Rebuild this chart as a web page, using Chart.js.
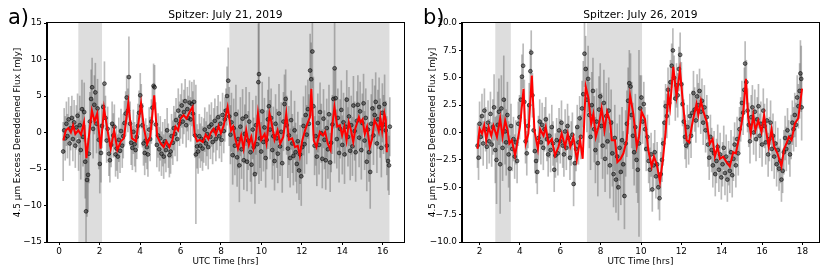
<!DOCTYPE html>
<html><head><meta charset="utf-8">
<script src="https://cdn.jsdelivr.net/npm/chart.js@4"></script>
<style>
html,body{margin:0;padding:0;background:#fff;width:830px;height:277px;overflow:hidden}
.p{position:absolute;top:0;width:415px;height:277px}
</style></head><body>
<div class="p" style="left:0"><canvas id="ca" width="415" height="277"></canvas></div>
<div class="p" style="left:415px"><canvas id="cb" width="415" height="277"></canvas></div>
<script>
// ---------- Panel a: July 21, 2019 ----------
const aTitle = 'Spitzer: July 21, 2019';
const aTime = [
0.20,0.25,0.30,0.36,0.41,0.47,0.52,0.57,0.63,0.68,
0.74,0.80,0.85,0.91,0.96,1.02,1.07,1.13,1.18,1.24,
1.29,1.33,1.38,1.43,1.47,1.52,1.58,1.63,1.68,1.74,
1.79,1.85,1.90,1.96,2.01,2.07,2.12,2.18,2.24,2.29,
2.35,2.40,2.46,2.51,2.57,2.62,2.68,2.73,2.79,2.84,
2.90,2.95,3.01,3.06,3.12,3.17,3.23,3.29,3.34,3.40,
3.45,3.51,3.56,3.62,3.67,3.73,3.78,3.84,3.89,3.95,
4.01,4.06,4.12,4.17,4.23,4.28,4.34,4.39,4.45,4.50,
4.56,4.61,4.67,4.72,4.78,4.83,4.89,4.95,5.00,5.06,
5.12,5.17,5.23,5.28,5.34,5.40,5.45,5.51,5.56,5.62,
5.67,5.73,5.78,5.84,5.89,5.95,6.00,6.06,6.11,6.17,
6.23,6.28,6.34,6.39,6.45,6.50,6.56,6.61,6.67,6.72,
6.76,6.82,6.87,6.93,6.98,7.04,7.09,7.15,7.20,7.26,
7.31,7.37,7.42,7.48,7.53,7.59,7.64,7.70,7.75,7.81,
7.86,7.92,7.97,8.03,8.08,8.14,8.19,8.25,8.30,8.36,
8.41,8.47,8.52,8.58,8.63,8.69,8.74,8.80,8.85,8.91,
8.96,9.02,9.07,9.13,9.18,9.24,9.29,9.35,9.40,9.46,
9.51,9.57,9.62,9.68,9.73,9.79,9.85,9.88,9.93,9.99,
10.04,10.10,10.15,10.21,10.26,10.32,10.37,10.43,10.48,10.54,
10.59,10.65,10.70,10.76,10.81,10.87,10.92,10.98,11.03,11.09,
11.14,11.20,11.25,11.31,11.36,11.42,11.47,11.53,11.58,11.64,
11.69,11.75,11.80,11.86,11.91,11.97,12.02,12.08,12.13,12.19,
12.24,12.30,12.35,12.41,12.46,12.52,12.57,12.63,12.68,12.74,
12.79,12.85,12.90,12.96,13.01,13.07,13.12,13.18,13.23,13.29,
13.34,13.40,13.45,13.51,13.56,13.62,13.67,13.73,13.78,13.84,
13.89,13.95,14.00,14.06,14.11,14.17,14.22,14.28,14.33,14.39,
14.44,14.50,14.55,14.61,14.66,14.72,14.77,14.83,14.88,14.94,
14.99,15.05,15.10,15.16,15.21,15.27,15.32,15.38,15.43,15.49,
15.54,15.60,15.65,15.71,15.76,15.82,15.87,15.93,15.98,16.04,
16.09,16.15,16.20,16.26,16.31,16.35];
const aFlux = [
-2.6,0.3,-0.8,1.2,-0.5,1.8,-1.5,0.6,2.0,-0.9,
1.4,-1.8,0.7,2.3,-1.2,1.0,-2.4,3.2,-0.6,2.8,
-4.0,-10.8,-6.5,-5.8,-2.9,1.5,4.6,6.2,0.5,3.8,
5.5,1.2,3.3,-1.0,-4.3,-2.8,0.9,3.5,6.7,2.0,
-1.1,0.5,-2.9,-3.8,-1.7,1.2,-0.4,0.8,-3.0,-2.2,
-3.3,-1.0,-2.5,0.2,-1.8,-0.5,1.3,2.6,4.8,3.0,
7.6,1.2,-1.4,-2.1,0.1,-1.6,-2.4,-0.6,0.9,2.7,
5.1,3.6,1.0,-1.5,-2.8,-1.1,-2.0,-3.0,0.4,-0.9,
1.5,3.4,6.4,6.2,1.1,-1.7,-0.4,-2.3,-0.8,-2.9,
-1.6,-3.3,-1.2,-2.4,0.3,-1.8,-3.1,-2.6,-0.5,-1.4,
0.6,-0.2,1.7,-0.9,3.0,1.2,2.2,3.7,1.5,2.8,
4.3,1.0,3.2,2.0,4.1,1.8,3.9,2.6,4.2,-0.4,
-3.0,-1.9,-2.6,-0.5,-1.8,-0.9,-2.2,-1.1,0.4,-1.5,
-0.2,-2.0,0.8,-0.6,1.1,-1.3,0.3,1.6,-0.9,0.6,
2.1,-0.5,1.2,-1.0,2.4,0.2,1.8,3.0,5.0,7.1,
2.2,-0.3,1.4,-3.1,0.6,-1.8,2.5,-3.4,-0.9,-4.5,
0.8,-2.3,1.9,-3.8,-0.2,2.2,-4.0,-1.1,1.5,-2.7,
-4.4,0.4,-2.0,-5.7,1.0,-1.6,6.9,8.0,-0.8,-2.6,
2.9,-1.3,0.7,-3.5,-1.0,1.8,3.6,0.4,2.0,-2.4,
-0.5,-3.9,1.2,-0.8,-2.9,2.6,-1.9,0.1,-4.2,1.5,
3.9,4.6,1.0,-2.2,-0.4,-3.5,1.7,-1.5,-3.2,0.3,
-2.7,-4.3,-1.2,-5.2,-3.0,-6.0,-2.0,0.9,-1.6,2.4,
-0.3,3.2,1.2,8.5,7.3,11.1,3.6,-1.8,-0.5,-3.3,
1.3,-1.7,2.8,-0.1,-3.6,1.9,-1.0,-3.8,0.6,-2.3,
2.5,-4.1,-1.4,1.1,4.6,8.8,4.7,-0.9,2.0,-2.8,
0.5,3.1,-1.7,1.4,-3.0,0.8,4.5,-0.6,2.2,-2.5,
1.0,-1.9,3.7,0.2,-2.7,1.6,3.8,-0.7,2.9,-2.4,
1.3,4.0,-1.1,2.0,-4.0,0.4,-2.7,-5.4,1.2,3.3,
-0.4,2.4,4.2,-1.5,1.8,3.5,0.6,-2.1,2.7,1.1,
3.9,0.3,-1.8,-3.9,-4.5,0.8];
const aErr = [
4,3,3,3,3,3,3,3,3,3,
3,3,3,3,4,4,4,4,4,4,
5,8,5,5,4,4,4,4,4,4,
4,4,4,4,4,4,3,3,3,3,
3,3,3,3,3,3,3,3,3,3,
3,3,3,3,3,3,3,3,3,3,
5.5,3,3,3,3,3,3,3,3,3,
3,3,3,3,3,3,3,3,3,3,
3,3,3,3,3,3,3,3,3,3,
3,3,3,3,3,3,3,3,3,3,
3,3,3,3,3,3,3,3,3,3,
3,3,3,3,3,3,3,3,3,3,
9.5,3,3,3,3,3,3,3,3,3,
3,3,3,3,3,3,3,3,3,3,
3,3,3,3,3,3,3,3,4,4.5,
4,4,4,4,4,4,4,4,4,5,
4,4,4,4,4,4,4,4,4,4,
4,4,4,4,4,4,8,15,4,4,
4,4,4,4,4,4,4,4,4,4,
4,4,4,4,4,4,4,4,4,4,
4,4,4,4,4,4,4,4,4,4,
4,4,4,4,4,4,4,4,4,4,
4,4,4,5,5,5,4,4,4,4,
4,4,4,4,4,4,4,4,4,4,
4,4,4,4,4,13,4,4,4,4,
4,4,4,4,4,4,4,4,4,4,
4,4,4,4,4,4,4,4,4,4,
4,4,4,4,4,4,4,5,4,4,
4,4,4,4,4,4,4,4,4,4,
4,4,4,4,4,4];
const aLineTime = [0.21,0.33,0.46,0.58,0.69,0.8,0.95,1.08,1.23,1.35,1.5,1.62,1.75,1.88,2.05,2.22,2.38,2.55,2.72,2.88,3.05,3.2,3.42,3.6,3.8,4.05,4.2,4.35,4.5,4.7,4.85,5.0,5.17,5.3,5.45,5.6,5.75,5.88,6.0,6.15,6.3,6.45,6.6,6.7,6.82,6.95,7.1,7.25,7.38,7.5,7.64,7.75,7.88,8.0,8.13,8.33,8.5,8.6,8.72,8.84,9.0,9.12,9.25,9.38,9.5,9.61,9.72,9.83,9.99,10.16,10.25,10.4,10.5,10.65,10.8,10.93,11.08,11.23,11.36,11.52,11.66,11.8,11.9,12.02,12.18,12.3,12.4,12.47,12.52,12.59,12.72,12.89,13.05,13.15,13.28,13.42,13.5,13.61,13.75,13.88,13.99,14.1,14.21,14.32,14.43,14.54,14.65,14.82,14.9,15.0,15.11,15.22,15.36,15.47,15.59,15.72,15.8,15.88,15.97,16.08,16.15,16.2];
const aLineFlux = [-1.1,0.3,0.6,0.0,1.0,-0.2,0.3,-0.3,1.4,-3.5,0.2,3.0,1.5,2.6,-2.2,3.3,0.5,-2.2,0.3,-2.4,-1.2,-0.8,4.1,-0.8,-1.2,4.0,0.5,-1.6,-0.6,5.1,-0.5,-1.4,-2.0,-1.2,-2.0,-1.0,0.8,0.3,1.9,2.4,1.9,2.8,3.5,-0.3,-1.2,-1.0,-1.3,-0.3,-0.9,0.0,0.5,-0.3,0.9,-0.1,0.9,3.5,0.3,0.8,-1.0,-2.2,-0.4,-2.2,0.3,-1.7,-0.6,-2.2,-1.0,2.6,-1.0,-0.2,-1.5,2.6,1.4,-1.0,0.3,-1.5,-0.6,2.6,-1.0,-0.8,-2.0,-1.8,-3.2,-1.1,0.5,1.4,2.1,6.0,3.0,-1.1,-2.0,0.1,-0.4,0.1,-1.5,-2.4,0.8,3.5,0.8,1.0,-0.4,0.8,-1.1,1.4,0.3,-1.3,0.6,2.1,1.4,1.8,-0.2,0.8,-2.0,-0.9,1.7,1.0,0.2,2.1,0.2,2.6,1.7,-2.7];
const aShade = [[0.95, 2.12], [8.42, 16.33]];
const aXTicks = [0, 2, 4, 6, 8, 10, 12, 14, 16];
const aYTicks = [-15, -10, -5, 0, 5, 10, 15];

// ---------- Panel b: July 26, 2019 ----------
const bTitle = 'Spitzer: July 26, 2019';
const bTime = [
1.90,1.95,2.00,2.06,2.12,2.18,2.24,2.30,2.36,2.42,
2.48,2.54,2.60,2.66,2.72,2.78,2.84,2.90,2.96,3.02,
3.08,3.14,3.20,3.26,3.32,3.38,3.44,3.50,3.56,3.62,
3.68,3.74,3.80,3.86,3.92,3.98,4.04,4.10,4.16,4.22,
4.28,4.34,4.40,4.46,4.52,4.56,4.62,4.68,4.74,4.80,
4.86,4.92,4.98,5.04,5.10,5.16,5.22,5.28,5.34,5.40,
5.46,5.52,5.58,5.64,5.70,5.76,5.82,5.88,5.94,6.00,
6.06,6.12,6.18,6.24,6.30,6.36,6.42,6.48,6.54,6.60,
6.66,6.72,6.78,6.84,6.90,6.96,7.02,7.08,7.14,7.20,
7.26,7.32,7.38,7.44,7.50,7.56,7.62,7.68,7.74,7.80,
7.86,7.92,7.98,8.04,8.10,8.16,8.22,8.28,8.34,8.40,
8.46,8.52,8.58,8.64,8.70,8.76,8.82,8.88,8.94,9.00,
9.06,9.12,9.18,9.24,9.30,9.36,9.42,9.48,9.54,9.60,
9.66,9.72,9.78,9.84,9.90,9.96,10.02,10.08,10.14,10.20,
10.26,10.32,10.38,10.44,10.50,10.56,10.62,10.68,10.74,10.80,
10.86,10.92,10.98,11.04,11.10,11.16,11.22,11.28,11.34,11.40,
11.46,11.52,11.58,11.64,11.70,11.76,11.82,11.88,11.94,12.00,
12.06,12.12,12.18,12.24,12.30,12.36,12.42,12.48,12.54,12.60,
12.66,12.72,12.78,12.84,12.90,12.96,13.02,13.08,13.14,13.20,
13.26,13.32,13.38,13.44,13.50,13.56,13.62,13.68,13.74,13.80,
13.86,13.92,13.98,14.04,14.10,14.16,14.22,14.28,14.34,14.40,
14.46,14.52,14.58,14.64,14.70,14.76,14.82,14.88,14.94,15.00,
15.06,15.12,15.16,15.22,15.28,15.34,15.40,15.46,15.52,15.58,
15.64,15.70,15.76,15.82,15.88,15.94,16.00,16.06,16.12,16.18,
16.24,16.30,16.36,16.42,16.48,16.54,16.60,16.66,16.72,16.78,
16.84,16.90,16.96,17.02,17.08,17.14,17.20,17.26,17.32,17.38,
17.44,17.50,17.56,17.62,17.68,17.74,17.80,17.86,17.90,17.94,
17.96];
const bFlux = [
-1.2,-2.3,0.8,-0.4,1.5,-1.0,2.0,0.3,-1.3,0.9,
-0.8,1.7,-1.1,0.5,2.3,-1.6,-2.5,0.7,1.9,-2.9,
2.2,-1.4,3.0,0.1,-0.9,1.6,-2.0,-3.3,0.6,-1.5,
-0.6,-2.2,-0.9,-2.6,0.8,1.4,3.0,5.1,6.1,2.8,
-0.8,-1.9,0.6,2.5,5.6,7.3,3.4,0.2,-1.7,-2.6,
-3.6,-0.5,1.0,-0.9,0.7,-1.4,0.3,1.2,-0.6,-2.0,
-0.3,-1.6,0.5,-1.0,-3.4,-2.1,-0.7,-1.9,0.2,-0.8,
0.9,-1.2,-2.0,0.1,-1.4,0.6,-0.5,-2.3,-1.0,-0.2,
-4.7,-2.8,-1.5,0.5,-0.9,1.3,-0.4,2.2,3.5,7.2,
5.8,3.0,4.9,1.6,-0.4,2.5,3.8,0.3,-1.6,1.0,
-2.8,2.1,3.3,0.6,-1.2,2.7,-2.4,1.5,-0.8,2.0,
-3.0,0.9,-1.9,-3.8,-0.5,-4.3,-2.2,-5.0,-1.4,-3.6,
-0.7,-2.9,-5.8,-1.0,0.8,2.9,4.5,4.2,1.6,-0.3,
-1.8,0.5,-2.5,-3.4,-1.0,2.2,3.2,1.0,2.6,0.3,
-1.5,-0.4,-2.6,-3.4,-2.0,-5.2,-3.0,-1.8,-4.0,-2.9,
-5.0,-6.0,-3.8,-2.5,-1.0,0.9,2.4,1.5,3.9,2.7,
4.6,6.1,7.5,5.0,3.1,4.3,3.4,5.8,7.1,4.4,
2.6,1.0,-0.4,-1.2,0.5,-0.9,1.5,-0.3,1.8,3.6,
2.1,1.1,3.3,2.5,3.8,1.9,2.9,0.9,2.3,0.2,
1.4,-1.1,-2.3,-0.4,-1.6,-3.0,-1.9,-3.8,-2.6,-1.3,
-3.4,-2.0,-4.1,-2.9,-1.4,-3.7,-2.2,-4.3,-2.8,-3.5,
-1.8,-3.9,-2.4,-1.1,-3.0,-0.6,-1.9,0.3,1.2,2.7,
1.8,3.9,6.3,4.6,2.0,0.7,-0.8,1.4,2.3,0.0,
1.9,-0.6,1.2,2.4,-0.3,0.8,-1.1,2.0,0.6,-0.9,
1.1,-2.0,-0.6,0.9,-1.5,-0.3,-2.2,-1.0,-2.9,-1.6,
-3.3,-2.6,-4.3,-3.5,-1.8,-0.5,-1.5,0.2,-0.9,-2.0,
-0.4,0.9,0.3,1.6,0.7,3.2,2.4,3.8,5.4,4.9,
2.3];
const bErr = [
2,2,2,2,2,2,2,2,2,2,
2,2,2,2.5,3,3,4,3,3,4.5,
3,3,4,3,3,3,3,3,2,2,
2,2,2,2,2,2,2,2,2,2,
2,2,2,2,2,2,2,2,2,2,
2,2,2,2,2,2,2,2,2,2,
2,2,2,2,2,2,2,2,2,2,
2,2,2,2,2,2,2,2,2,2,
2,2,2,2,2,2,2,2.5,3,3,
3,3,3,3,3,3,3,3,3,3,
3,3,3,3,3,3,3,3,3,3,
3,3,3,3,3,3,3,3,3,3,
3,3,3,3,3,3,3,3,3,3,
3,3,3,3,8.5,3,2,2,2,2,
2,2,2,2,2,2,2,2,2,2,
2,2,2,2,2,2,2,2,2,2,
2,2,2,2,2,2,2,2,2,2,
2,2,2,2,2,2,2,2,2,2,
2,2,2,2,2,2,2,2,2,2,
2,2,2,2,2,2,2,2,2,2,
2,2,2,2,2,2,2,2,2,2,
2,2,2,2,2,2,2,2,2,2,
2,2,2,2,2,2,2,2,2,2,
2,2,2,2,2,2,2,2,2,2,
2,2,2,2,2,2,2,2,2,2,
2,2,2,2,2,2,2,2,2,2,
2,2,2,2,2,2,2,2.5,3,3,
3];
const bLineTime = [1.9,2.0,2.12,2.23,2.33,2.45,2.58,2.69,2.86,3.02,3.14,3.27,3.39,3.48,3.6,3.76,4.0,4.18,4.29,4.42,4.59,4.72,4.89,5.0,5.17,5.28,5.41,5.58,5.74,5.91,6.07,6.24,6.37,6.5,6.65,6.82,6.98,7.11,7.26,7.39,7.53,7.64,7.76,7.89,8.05,8.19,8.32,8.47,8.55,8.71,8.83,8.99,9.13,9.29,9.46,9.62,9.79,9.9,10.03,10.2,10.36,10.53,10.64,10.78,10.94,11.1,11.22,11.35,11.44,11.6,11.76,11.93,12.1,12.26,12.38,12.51,12.64,12.75,12.84,12.97,13.08,13.25,13.41,13.55,13.66,13.79,13.91,14.07,14.24,14.4,14.57,14.7,14.9,15.06,15.2,15.31,15.44,15.56,15.67,15.81,15.97,16.1,16.22,16.33,16.47,16.6,16.76,16.96,17.09,17.21,17.32,17.46,17.62,17.79,17.98];
const bLineFlux = [-1.5,0.35,-0.1,0.65,-0.7,0.5,-0.3,0.6,-0.4,1.3,-0.4,1.1,0.2,-1.0,-0.7,-2.1,0.5,4.0,-1.0,-0.1,5.2,0.2,-1.5,0.3,-0.3,0.5,-1.0,-0.6,-2.1,-1.3,-0.1,-1.3,-0.1,-1.3,-0.4,-2.5,-0.7,-2.4,4.2,3.2,0.8,1.7,-0.4,0.5,2.2,0.2,1.9,1.0,-0.7,-0.7,-2.7,-2.4,-1.9,-0.7,3.4,1.7,-1.3,-0.4,1.9,1.2,-1.6,-3.1,-2.2,-2.9,-4.5,-2.2,0.05,3.5,2.3,6.0,3.3,5.7,2.3,-0.7,-0.9,0.5,1.7,2.6,1.6,2.9,2.0,1.0,-1.0,-0.6,-2.2,-1.3,-2.4,-2.2,-2.7,-3.1,-1.8,-1.9,-0.1,1.7,4.9,1.4,-0.1,1.6,0.2,1.1,0.05,1.6,-0.1,-1.3,0.3,-1.3,-1.9,-3.1,-1.5,-1.0,-0.4,-0.7,0.8,1.3,4.0];
const bShade = [[2.78, 3.55], [7.32, 10.05]];
const bXTicks = [2, 4, 6, 8, 10, 12, 14, 16, 18];
const bYTicks = [-10, -7.5, -5, -2.5, 0, 2.5, 5, 7.5, 10];

// ---------- shared text ----------
const xLabel = 'UTC Time [hrs]';
const yLabel = '4.5 \u03bcm Excess Dereddened Flux [mJy]';

Chart.defaults.font.family = "'DejaVu Sans', sans-serif";
Chart.defaults.color = '#000';

function fmt(v, dec) {
  const s = Math.abs(v).toFixed(dec);
  return v < 0 ? '\u2212' + s : s;
}

function makePanel(id, letter, title, time, flux, err, lineT, lineF, shade, xTicks, yTicks, xr, yr, yDec) {
  const n = Math.min(time.length, flux.length, err.length);
  const m = Math.min(lineT.length, lineF.length);
  const pts = [], bars = [], line = [];
  for (let i = 0; i < n; i++) {
    pts.push({x: time[i], y: flux[i]});
    bars.push({x: time[i], y: [flux[i] - err[i], flux[i] + err[i]]});
  }
  for (let i = 0; i < m; i++) line.push({x: lineT[i], y: lineF[i]});

  const shadePlugin = {
    id: 'shade' + id,
    beforeDatasetsDraw(chart) {
      const {ctx, chartArea: a, scales: {x}} = chart;
      ctx.save();
      ctx.fillStyle = 'rgba(128,128,128,0.27)';
      shade.forEach(([s, e]) => {
        const x1 = x.getPixelForValue(s), x2 = x.getPixelForValue(e);
        ctx.fillRect(x1, a.top, x2 - x1, a.bottom - a.top);
      });
      ctx.restore();
    },
    afterDraw(chart) {
      const {ctx, chartArea: a} = chart;
      ctx.save();
      ctx.strokeStyle = '#000';
      ctx.lineWidth = 1;
      const l = Math.round(a.left) - 0.5, t = Math.round(a.top) - 0.5;
      ctx.strokeRect(l, t, Math.round(a.right) - Math.round(a.left) + 1, Math.round(a.bottom) - Math.round(a.top) + 1);
      ctx.fillStyle = '#000';
      ctx.font = "21px 'DejaVu Sans'";
      ctx.textBaseline = 'alphabetic';
      ctx.textAlign = 'left';
      ctx.fillText(letter, 8, 24);
      ctx.restore();
    }
  };

  const tickFont = {size: 8.9};
  new Chart(document.getElementById(id), {
    type: 'scatter',
    data: {
      datasets: [
        {type: 'line', data: line, borderColor: '#ff0000', borderWidth: 2, pointRadius: 0, tension: 0, fill: false, order: 0},
        {type: 'scatter', data: pts, pointRadius: 1.9, pointBackgroundColor: 'rgba(45,45,45,0.55)', pointBorderColor: 'rgba(0,0,0,0.7)', pointBorderWidth: 0.8, order: 1},
        {type: 'bar', data: bars, backgroundColor: 'rgba(90,90,90,0.42)', borderWidth: 0, barThickness: 1, grouped: false, order: 2}
      ]
    },
    options: {
      responsive: false,
      animation: false,
      devicePixelRatio: 1,
      layout: {padding: {left: 0, right: 11, top: 0, bottom: 0}},
      plugins: {
        legend: {display: false},
        tooltip: {enabled: false},
        title: {display: true, text: title, fullSize: false, color: '#000', font: {size: 10.7, weight: 'normal'}, padding: {top: 8.5, bottom: 1.7}}
      },
      scales: {
        x: {
          type: 'linear', min: xr[0], max: xr[1], offset: false,
          grid: {display: true, drawOnChartArea: false, drawTicks: true, tickLength: 3, color: '#000', offset: false},
          border: {display: true, color: '#000', width: 1},
          ticks: {color: '#000', font: tickFont, padding: 1.5, autoSkip: false, maxRotation: 0, callback: v => fmt(v, 0)},
          afterBuildTicks: s => { s.ticks = xTicks.map(v => ({value: v})); },
          afterFit: s => { s.height = 35; },
          title: {display: true, text: xLabel, color: '#000', font: {size: 8.9}, padding: {top: 0, bottom: 9.6}}
        },
        y: {
          type: 'linear', min: yr[0], max: yr[1],
          grid: {display: true, drawOnChartArea: false, drawTicks: true, tickLength: 3, color: '#000'},
          border: {display: true, color: '#000', width: 1},
          ticks: {color: '#000', font: tickFont, padding: 2, autoSkip: false, callback: v => fmt(v, yDec)},
          afterBuildTicks: s => { s.ticks = yTicks.map(v => ({value: v})); },
          afterFit: s => { s.width = 47; },
          title: {display: true, text: yLabel, color: '#000', font: {size: 8.9}, padding: {top: 12.5, bottom: 0}}
        }
      }
    },
    plugins: [shadePlugin]
  });
}

makePanel('ca', 'a)', aTitle, aTime, aFlux, aErr, aLineTime, aLineFlux, aShade, aXTicks, aYTicks, [-0.6, 17.05], [-15, 15], 0);
makePanel('cb', 'b)', bTitle, bTime, bFlux, bErr, bLineTime, bLineFlux, bShade, bXTicks, bYTicks, [1.13, 18.82], [-10, 10], 1);
</script>
</body></html>
